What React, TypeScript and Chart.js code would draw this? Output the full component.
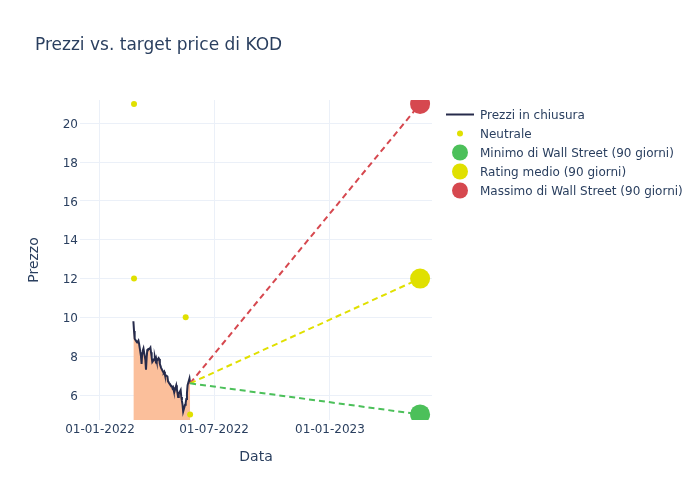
import React, { useEffect, useRef } from 'react';
import { Chart, registerables } from 'chart.js';

Chart.register(...registerables);

const DAY = 86400000;
const toMs = (s: string) => Date.parse(s + 'T00:00:00Z');

const chartTitle = 'Prezzi vs. target price di KOD';
const xAxisTitle = 'Data';
const yAxisTitle = 'Prezzo';

const seriesLabels = [
  'Prezzi in chiusura',
  'Neutrale',
  'Minimo di Wall Street (90 giorni)',
  'Rating medio (90 giorni)',
  'Massimo di Wall Street (90 giorni)',
];

const priceDates = [
  '2022-02-23', '2022-02-24', '2022-02-25', '2022-02-28',
  '2022-03-01', '2022-03-02', '2022-03-03', '2022-03-04',
  '2022-03-07', '2022-03-08', '2022-03-09', '2022-03-10', '2022-03-11',
  '2022-03-14', '2022-03-15', '2022-03-16', '2022-03-17', '2022-03-18',
  '2022-03-21', '2022-03-22', '2022-03-23', '2022-03-24', '2022-03-25',
  '2022-03-28', '2022-03-29', '2022-03-30', '2022-03-31', '2022-04-01',
  '2022-04-04', '2022-04-05', '2022-04-06', '2022-04-07', '2022-04-08',
  '2022-04-11', '2022-04-12', '2022-04-13', '2022-04-14',
  '2022-04-18', '2022-04-19', '2022-04-20', '2022-04-21', '2022-04-22',
  '2022-04-25', '2022-04-26', '2022-04-27', '2022-04-28', '2022-04-29',
  '2022-05-02', '2022-05-03', '2022-05-04', '2022-05-05', '2022-05-06',
  '2022-05-09', '2022-05-10', '2022-05-11', '2022-05-12', '2022-05-13',
  '2022-05-16', '2022-05-17', '2022-05-18', '2022-05-19', '2022-05-20',
  '2022-05-23', '2022-05-24',
];

const priceValues = [
  9.8, 9.3, 8.9, 8.75,
  8.7, 8.75, 8.8, 8.65,
  8.0, 7.6, 8.15, 8.3, 8.4,
  7.8, 7.3, 7.9, 8.3, 8.35,
  8.4, 8.45, 8.2, 7.95, 7.7,
  7.85, 7.95, 7.8, 7.9, 7.75,
  7.9, 7.85, 7.6, 7.5, 7.4,
  7.2, 7.15, 7.2, 7.05,
  6.95, 6.7, 6.65, 6.6, 6.55,
  6.45, 6.35, 6.4, 6.25, 6.15,
  6.5, 6.3, 6.1, 5.9, 6.05,
  6.25, 5.9, 5.7, 5.5, 5.15,
  5.5, 5.6, 5.8, 6.1, 6.5,
  6.85, 6.6,
];

const neutralDates = ['2022-02-24', '2022-02-24', '2022-05-17', '2022-05-24'];
const neutralValues = [21, 12, 10, 5];

const targetDate = '2023-05-24';
const targetMin = 5;
const targetAvg = 12;
const targetMax = 21;

const xTickDates = ['2022-01-01', '2022-07-01', '2023-01-01'];
const xTickLabels = ['01-01-2022', '01-07-2022', '01-01-2023'];
const yTickValues = [6, 8, 10, 12, 14, 16, 18, 20];

const TEXT = '#2a3f5f';
const GRID = '#EBF0F8';
const LINE = '#262b4b';
const FILL = 'rgb(251,191,155)';
const YELLOW = '#e0e000';
const GREEN = '#4cc05a';
const RED = '#d6484f';
const FONT = '"DejaVu Sans", Verdana, sans-serif';

const legendColors = [LINE, YELLOW, GREEN, YELLOW, RED];
const legendRadius = [0, 3, 8, 8, 8];

const overlayPlugin = {
  id: 'overlay',
  afterDraw(chart: any) {
    const ctx = chart.ctx as CanvasRenderingContext2D;
    ctx.save();
    ctx.fillStyle = TEXT;
    ctx.textAlign = 'left';
    ctx.textBaseline = 'alphabetic';
    ctx.font = '17px ' + FONT;
    ctx.fillText(chartTitle, 35, 50);

    ctx.font = '12px ' + FONT;
    seriesLabels.forEach((label, i) => {
      const cy = 114.5 + i * 19;
      if (legendRadius[i] === 0) {
        ctx.strokeStyle = legendColors[i];
        ctx.lineWidth = 2;
        ctx.beginPath();
        ctx.moveTo(446, cy);
        ctx.lineTo(474, cy);
        ctx.stroke();
      } else {
        ctx.fillStyle = legendColors[i];
        ctx.beginPath();
        ctx.arc(460, cy, legendRadius[i], 0, Math.PI * 2);
        ctx.fill();
      }
      ctx.fillStyle = TEXT;
      ctx.fillText(label, 480, cy + 4.4);
    });
    ctx.restore();
  },
};

export default function App() {
  const ref = useRef<HTMLCanvasElement | null>(null);

  useEffect(() => {
    if (!ref.current) return;
    const lastDate = priceDates[priceDates.length - 1];
    const lastPrice = priceValues[priceValues.length - 1];
    const targetLine = (v: number) => [
      { x: toMs(lastDate), y: lastPrice },
      { x: toMs(targetDate), y: v },
    ];
    const base = toMs('2022-01-01');

    const chart = new Chart(ref.current, {
      type: 'line',
      data: {
        datasets: [
          {
            label: seriesLabels[0],
            data: priceDates.map((d, i) => ({ x: toMs(d), y: priceValues[i] })),
            borderColor: LINE,
            backgroundColor: FILL,
            borderWidth: 2,
            fill: 'start',
            pointRadius: 0,
            tension: 0,
            order: 5,
          },
          {
            label: seriesLabels[1],
            data: neutralDates.map((d, i) => ({ x: toMs(d), y: neutralValues[i] })),
            showLine: false,
            pointRadius: 3,
            pointBackgroundColor: YELLOW,
            pointBorderWidth: 0,
            borderColor: YELLOW,
            backgroundColor: YELLOW,
            order: 0,
          },
          {
            label: seriesLabels[2],
            data: targetLine(targetMin),
            borderColor: GREEN,
            backgroundColor: GREEN,
            borderWidth: 2,
            borderDash: [6, 4],
            pointRadius: [0, 10],
            pointBackgroundColor: GREEN,
            pointBorderWidth: 0,
            fill: false,
            order: 1,
          },
          {
            label: seriesLabels[3],
            data: targetLine(targetAvg),
            borderColor: YELLOW,
            backgroundColor: YELLOW,
            borderWidth: 2,
            borderDash: [6, 4],
            pointRadius: [0, 10],
            pointBackgroundColor: YELLOW,
            pointBorderWidth: 0,
            fill: false,
            order: 1,
          },
          {
            label: seriesLabels[4],
            data: targetLine(targetMax),
            borderColor: RED,
            backgroundColor: RED,
            borderWidth: 2,
            borderDash: [6, 4],
            pointRadius: [0, 10],
            pointBackgroundColor: RED,
            pointBorderWidth: 0,
            fill: false,
            order: 1,
          },
        ],
      },
      options: {
        animation: false,
        responsive: false,
        layout: { padding: { top: 100, right: 268, bottom: 0, left: 0 } },
        plugins: {
          legend: { display: false },
          title: { display: false },
          tooltip: { enabled: false },
        },
        scales: {
          x: {
            type: 'linear',
            min: base - 31.74 * DAY,
            max: base + 526.9 * DAY,
            grid: { color: GRID, lineWidth: 1, drawTicks: false },
            border: { display: false },
            afterBuildTicks: (s: any) => {
              s.ticks = xTickDates.map((d) => ({ value: toMs(d) }));
            },
            afterFit: (s: any) => {
              s.height = 80;
            },
            ticks: {
              padding: 3,
              color: TEXT,
              font: { family: FONT, size: 12 },
              maxRotation: 0,
              autoSkip: false,
              callback: (v: any) => {
                const idx = xTickDates.findIndex((d) => toMs(d) === v);
                return idx >= 0 ? xTickLabels[idx] : '';
              },
            },
            title: {
              display: true,
              text: xAxisTitle,
              color: TEXT,
              font: { family: FONT, size: 14 },
              padding: { top: 0, bottom: 34 },
            },
          },
          y: {
            type: 'linear',
            min: 4.712,
            max: 21.2,
            grid: { color: GRID, lineWidth: 1, drawTicks: false },
            border: { display: false },
            afterBuildTicks: (s: any) => {
              s.ticks = yTickValues.map((v) => ({ value: v }));
            },
            afterFit: (s: any) => {
              s.width = 80;
            },
            ticks: {
              padding: 2,
              labelOffset: 1.5,
              color: TEXT,
              font: { family: FONT, size: 12 },
              callback: (v: any) => String(v),
            },
            title: {
              display: true,
              text: yAxisTitle,
              color: TEXT,
              font: { family: FONT, size: 14 },
              padding: { top: 26, bottom: 0 },
            },
          },
        },
      },
      plugins: [overlayPlugin],
    } as any);

    return () => chart.destroy();
  }, []);

  return (
    <div style={{ position: 'absolute', left: 0, top: 0, width: 700, height: 500, background: '#fff' }}>
      <canvas ref={ref} width={700} height={500} style={{ width: 700, height: 500 }} />
    </div>
  );
}
